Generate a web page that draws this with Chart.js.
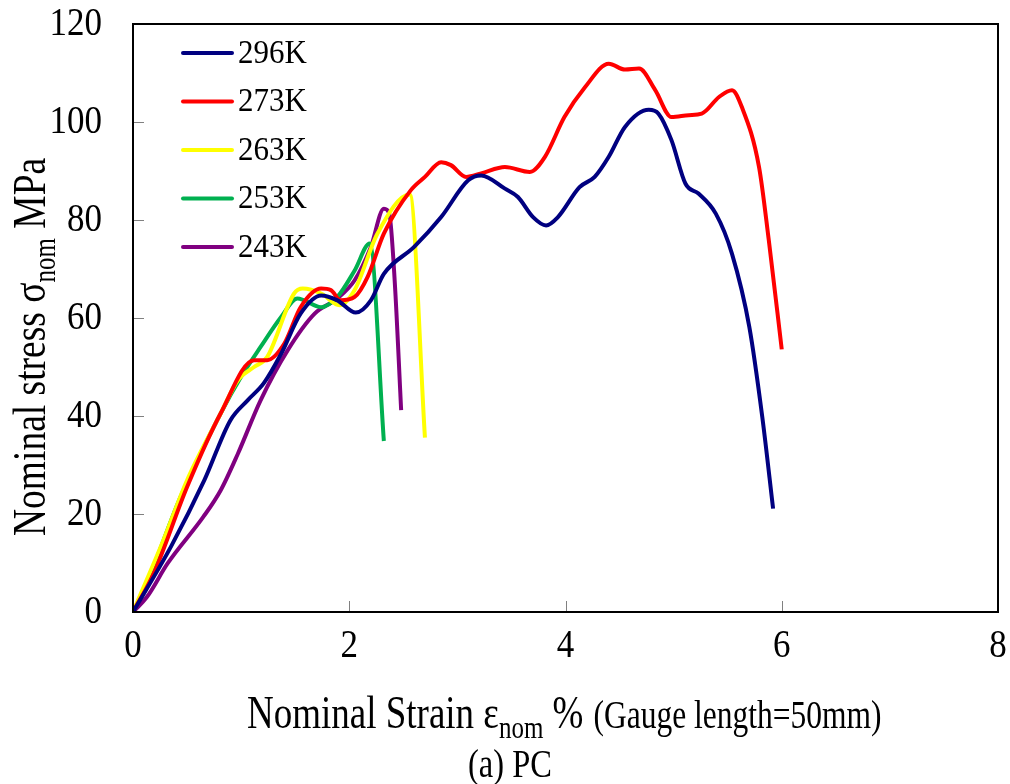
<!DOCTYPE html>
<html lang="en">
  <head>
    <meta charset="UTF-8" />
    <title>PC stress strain</title>
    <script src="https://cdn.jsdelivr.net/npm/chart.js"></script>
    <style>
      body { margin: 0; background: #fff; }
      #wrap { width: 1010px; height: 784px; }
    </style>
  </head>
  <body>
    <div id="wrap"><canvas id="pc"></canvas></div>

    <script>
      // data (strain %, stress MPa)
      const series = ['296K', '273K', '263K', '253K', '243K'];
      const colors = ['#000080', '#ff0000', '#ffff00', '#00b050', '#800080'];

      const strain296 = [0, 0.35, 0.66, 0.9, 1.06, 1.21, 1.37, 1.55, 1.74, 1.89, 2.06, 2.2, 2.32, 2.6, 2.85, 3.1, 3.22, 3.44, 3.56, 3.7, 3.82, 3.93, 4.13, 4.27, 4.4, 4.55, 4.77, 4.86, 4.98, 5.11, 5.23, 5.39, 5.54, 5.7, 5.82, 5.92];
      const stress296 = [0, 13.3, 26.9, 39.1, 43.2, 46.7, 52.7, 60.9, 64.6, 63.6, 61.1, 63.6, 69.0, 74.5, 80.6, 88.1, 89.1, 86.4, 84.7, 80.6, 78.9, 80.6, 86.7, 88.8, 92.9, 99.0, 102.5, 101.7, 96.3, 87.4, 85.4, 81.3, 73.1, 58.2, 39.8, 21.1];

      const strain273 = [0, 0.19, 0.5, 0.81, 1.12, 1.24, 1.4, 1.55, 1.74, 1.83, 1.92, 2.05, 2.17, 2.32, 2.57, 2.7, 2.85, 2.94, 3.08, 3.22, 3.44, 3.67, 3.81, 3.99, 4.18, 4.4, 4.55, 4.68, 4.83, 4.98, 5.14, 5.26, 5.42, 5.54, 5.63, 5.79, 5.88, 6.0];
      const stress273 = [0, 7.8, 25.5, 40.5, 51.4, 51.4, 54.8, 62.2, 66.0, 65.7, 63.6, 64.3, 68.4, 77.2, 86.1, 88.8, 91.8, 91.2, 88.8, 89.5, 90.8, 89.8, 92.9, 101.0, 107.1, 111.9, 110.7, 110.9, 106.5, 101.0, 101.4, 101.7, 105.1, 106.5, 103.1, 90.8, 75.9, 53.6];

      const strain263 = [0, 0.28, 0.5, 0.81, 0.97, 1.12, 1.24, 1.49, 1.57, 1.74, 1.91, 2.05, 2.26, 2.56, 2.7];
      const stress263 = [0, 14.6, 26.9, 40.5, 47.3, 50.0, 52.0, 65.0, 66.0, 65.0, 62.6, 65.7, 77.2, 85.2, 35.6];

      const strain253 = [0, 0.1, 0.44, 0.81, 1.0, 1.18, 1.37, 1.52, 1.74, 1.89, 2.05, 2.19, 2.32];
      const stress253 = [0, 4.4, 23.5, 40.5, 48.0, 54.1, 60.2, 64.0, 62.2, 64.3, 69.7, 75.2, 34.9];

      const strain243 = [0, 0.13, 0.32, 0.65, 0.81, 0.97, 1.18, 1.43, 1.68, 1.89, 2.05, 2.2, 2.32, 2.37, 2.42, 2.48];
      const stress243 = [0, 3.1, 9.9, 19.4, 24.8, 32.3, 43.2, 53.4, 60.9, 64.0, 67.7, 74.5, 82.3, 81.3, 67.7, 41.2];

      const xTicks = [0, 2, 4, 6, 8];
      const yTicks = [0, 20, 40, 60, 80, 100, 120];

      const strains = [strain296, strain273, strain263, strain253, strain243];
      const stresses = [stress296, stress273, stress263, stress253, stress243];

      const datasets = series.map((name, i) => ({
        label: name,
        data: strains[i].map((x, j) => ({ x: x, y: stresses[i][j] })),
        borderColor: colors[i],
        backgroundColor: colors[i],
        borderWidth: 4,
        pointRadius: 0,
        showLine: true,
        cubicInterpolationMode: 'monotone',
        order: i,
      }));

      const serif = "'Liberation Serif', 'DejaVu Serif', serif";

      // text in the original is a bit condensed, so stretch it vertically
      function tallText(ctx, t, x, y, size, sy, align, base) {
        ctx.save();
        ctx.font = size + 'px ' + serif;
        ctx.textAlign = align || 'left';
        ctx.textBaseline = base || 'alphabetic';
        ctx.translate(x, y);
        ctx.scale(1, sy);
        ctx.fillText(t, 0, 0);
        const w = ctx.measureText(t).width;
        ctx.restore();
        return w;
      }

      // frame, inner ticks, tick labels, legend and titles
      const decor = {
        id: 'decor',
        afterDatasetsDraw(chart) {
          const ctx = chart.ctx;
          const a = chart.chartArea;
          const xs = chart.scales.x;
          const ys = chart.scales.y;
          ctx.save();
          ctx.fillStyle = '#000';

          // inner tick marks
          ctx.strokeStyle = '#808080';
          ctx.lineWidth = 1;
          yTicks.forEach((v) => {
            const py = Math.round(ys.getPixelForValue(v)) + 0.5;
            ctx.beginPath();
            ctx.moveTo(a.left, py);
            ctx.lineTo(a.left + 11, py);
            ctx.stroke();
          });
          xTicks.forEach((v) => {
            const px = Math.round(xs.getPixelForValue(v)) + 0.5;
            ctx.beginPath();
            ctx.moveTo(px, a.bottom);
            ctx.lineTo(px, a.bottom - 11);
            ctx.stroke();
          });

          // frame
          ctx.strokeStyle = '#000';
          ctx.lineWidth = 2;
          ctx.strokeRect(a.left, a.top, a.right - a.left, a.bottom - a.top);

          // tick labels
          yTicks.forEach((v) => {
            tallText(ctx, String(v), a.left - 31, ys.getPixelForValue(v), 35, 1.15, 'right', 'middle');
          });
          xTicks.forEach((v) => {
            tallText(ctx, String(v), xs.getPixelForValue(v), a.bottom + 34, 35, 1.15, 'center', 'middle');
          });

          // legend
          series.forEach((name, i) => {
            const y = 53 + i * 48.5;
            ctx.strokeStyle = colors[i];
            ctx.lineWidth = 4;
            ctx.lineCap = 'round';
            ctx.beginPath();
            ctx.moveTo(183, y);
            ctx.lineTo(232, y);
            ctx.stroke();
            tallText(ctx, name, 238, y + 1, 31, 1.1, 'left', 'middle');
          });

          // x title
          let x = 247;
          const by = 728;
          x += tallText(ctx, 'Nominal Strain \u03b5', x, by, 37, 1.25);
          x += tallText(ctx, 'nom', x, by + 10, 25, 1.25);
          x += tallText(ctx, ' %', x, by, 37, 1.25);
          x += 10;
          tallText(ctx, '(Gauge length=50mm)', x, by, 31.5, 1.25);

          // y title (rotated)
          ctx.save();
          ctx.translate(45, 536);
          ctx.rotate(-Math.PI / 2);
          x = 0;
          x += tallText(ctx, 'Nominal stress \u03c3', x, 0, 37.5, 1.25);
          x += tallText(ctx, 'nom', x, 10, 25, 1.25);
          tallText(ctx, ' MPa', x, 0, 37.5, 1.25);
          ctx.restore();

          // caption
          tallText(ctx, '(a) PC', 510, 777, 32.5, 1.2, 'center');
          ctx.restore();
        },
      };

      new Chart(document.getElementById('pc'), {
        type: 'scatter',
        data: { datasets: datasets },
        options: {
          responsive: true,
          maintainAspectRatio: false,
          animation: false,
          layout: { padding: { top: 24, right: 12, left: 0, bottom: 0 } },
          plugins: { legend: { display: false }, tooltip: { enabled: false } },
          scales: {
            x: {
              type: 'linear',
              min: 0,
              max: 8,
              afterBuildTicks: (s) => { s.ticks = xTicks.map((v) => ({ value: v })); },
              afterFit: (s) => { s.height = 172; },
              grid: { display: false, drawTicks: false },
              border: { display: false },
              ticks: { display: false },
            },
            y: {
              type: 'linear',
              min: 0,
              max: 120,
              afterBuildTicks: (s) => { s.ticks = yTicks.map((v) => ({ value: v })); },
              afterFit: (s) => { s.width = 133; },
              grid: { display: false, drawTicks: false },
              border: { display: false },
              ticks: { display: false },
            },
          },
        },
        plugins: [decor],
      });
    </script>
  </body>
</html>
